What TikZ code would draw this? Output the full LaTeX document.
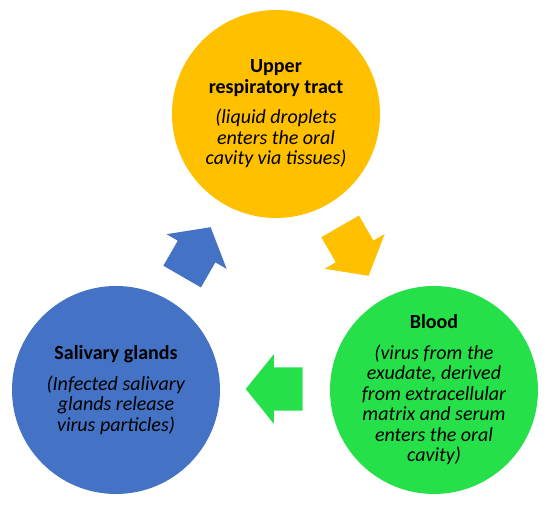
\documentclass[tikz,border=0pt]{standalone}
\usepackage{fontspec}
\setmainfont{Carlito}
\usetikzlibrary{shapes.arrows}
\definecolor{CycleGold}{HTML}{FFC000}
\definecolor{CycleGreen}{HTML}{26E04A}
\definecolor{CycleBlue}{HTML}{4472C4}

\tikzset{
  stage/.style={circle, minimum size=208pt, inner sep=0pt, align=center,
    font=\fontsize{20}{20.5}\selectfont},
  turn/.style={single arrow, minimum height=57pt, inner xsep=0pt, inner ysep=21.5pt,
    single arrow head extend=13pt, single arrow tip angle=102}
}

\begin{document}
\begin{tikzpicture}[x=1pt,y=1pt]
  \useasboundingbox (0,0) rectangle (550,510);

  \node[stage, fill=CycleGold] (upper) at (276,396) {
    \textbf{Upper}\\\textbf{respiratory tract}\\[10pt]
    \textit{(liquid droplets}\\\textit{enters the oral}\\\textit{cavity via tissues)}
  };
  \node[stage, fill=CycleGreen] (blood) at (434,120) {
    \textbf{Blood}\\[10pt]
    \textit{(virus from the}\\\textit{exudate, derived}\\\textit{from extracellular}\\
    \textit{matrix and serum}\\\textit{enters the oral}\\\textit{cavity)}
  };
  \node[stage, fill=CycleBlue] (glands) at (116,120) {
    \textbf{Salivary glands}\\[10pt]
    \textit{(Infected salivary}\\\textit{glands release}\\\textit{virus particles)}
  };

  \node[turn, fill=CycleGold, rotate=-60] (upper-to-blood) at (350,266.5) {};
  \node[turn, fill=CycleGreen, rotate=180] (blood-to-glands) at (283,121) {};
  \node[turn, fill=CycleBlue, rotate=60] (glands-to-upper) at (192,250.5) {};
\end{tikzpicture}
\end{document}
